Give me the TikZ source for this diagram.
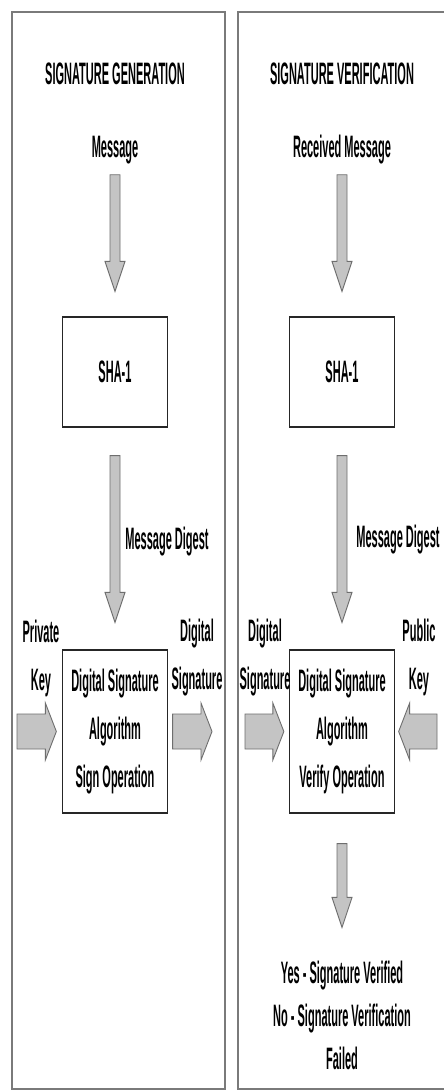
\documentclass[tikz,border=0pt]{standalone}
\usepackage{fontspec}
\setmainfont[FakeStretch=0.355]{Liberation Sans}
\usetikzlibrary{calc}

\definecolor{arrfill}{HTML}{C4C4C4}
\definecolor{arrline}{HTML}{6E6E6E}
\definecolor{panelline}{HTML}{7A7A7A}

\begin{document}
\begin{tikzpicture}[x=1pt,y=-1pt,
  panel/.style={draw=panelline,line width=1.6pt},
  txt/.style={inner sep=0pt,align=center,font=\fontsize{31}{48}\selectfont\bfseries},
  box/.style={rectangle,draw=black!85,line width=1.3pt,fill=white,minimum width=105pt,inner sep=0pt,align=center,font=\fontsize{31}{48}\selectfont\bfseries},
  blk/.style={draw=arrline,fill=arrfill,line width=0.9pt,line join=miter},
  blockv/.style 2 args={blk,to path={let \p1=(\tikztostart),\p2=(\tikztotarget) in
    (\x1-5pt,\y1-#1) -- (\x1+5pt,\y1-#1) -- (\x1+5pt,\y2+#2+30pt) -- (\x1+10pt,\y2+#2+30pt)
    -- (\x1,\y2+#2) -- (\x1-10pt,\y2+#2+30pt) -- (\x1-5pt,\y2+#2+30pt) -- cycle}},
  blockh/.style 2 args={blk,to path={let \p1=(\tikztostart),\p2=(\tikztotarget),\n1={(\x2-\x1)/abs(\x2-\x1)} in
    (\x1+\n1*#1,\y2+17.5pt) -- (\x2-\n1*#2-\n1*11pt,\y2+17.5pt) -- (\x2-\n1*#2-\n1*11pt,\y2+28.5pt)
    -- (\x2-\n1*#2,\y2) -- (\x2-\n1*#2-\n1*11pt,\y2-28.5pt) -- (\x2-\n1*#2-\n1*11pt,\y2-17.5pt)
    -- (\x1+\n1*#1,\y2-17.5pt) -- cycle}},
]

\fill[white] (0,0) rectangle (444,1092);
\useasboundingbox (0,0) rectangle (444,1092);

% Panels
\draw[panel] (12,12) rectangle (225,1089);
\draw[panel] (238,12) rectangle (460,1089);

% Titles
\node[txt,anchor=base] (genTitle) at (115,84) {SIGNATURE GENERATION};
\node[txt,anchor=base] (verTitle) at (342,84) {SIGNATURE VERIFICATION};

% Inputs
\node[txt,anchor=base] (msgGen) at (115,157) {Message};
\node[txt,anchor=base] (msgVer) at (342,157) {Received Message};

% Hash boxes
\node[box,minimum height=110pt] (shaGen) at (115,372) {SHA-1};
\node[box,minimum height=110pt] (shaVer) at (342,372) {SHA-1};

% Algorithm boxes
\node[box,minimum height=163pt] (dsaGen) at (115,731.5) {Digital Signature\\Algorithm\\Sign Operation};
\node[box,minimum height=163pt] (dsaVer) at (342,731.5) {Digital Signature\\Algorithm\\Verify Operation};

% Side labels
\node[txt,anchor=base] (digestGen) at (167,549) {Message Digest};
\node[txt,anchor=base] (digestVer) at (398,547) {Message Digest};
\node[txt] (privKey) at (41,658) {Private\\Key};
\node[txt] (sigOutLbl) at (197,658) {Digital\\Signature};
\node[txt] (sigInLbl) at (265,658) {Digital\\Signature};
\node[txt] (pubKey) at (419,657) {Public\\Key};

% Result
\node[txt,font=\fontsize{31}{43}\selectfont\bfseries] (result) at (342,1015) {Yes - Signature Verified\\No - Signature Verification\\Failed};

% Free ends
\coordinate (keyIn) at (17,731.5);
\coordinate (sigOut) at (212,731.5);
\coordinate (sigIn) at (245,731.5);
\coordinate (keyPub) at (437,731.5);

% Block arrows
\draw[blockv={11pt}{25pt}] (msgGen.south) to (shaGen.north);
\draw[blockv={11pt}{25pt}] (msgVer.south) to (shaVer.north);
\draw[blockv={28pt}{27pt}] (shaGen.south) to (dsaGen.north);
\draw[blockv={28pt}{27pt}] (shaVer.south) to (dsaVer.north);
\draw[blockv={30pt}{33pt}] (dsaVer.south) to (result.north);
\draw[blockh={0pt}{5.5pt}] (keyIn) to (dsaGen.west);
\draw[blockh={4.5pt}{0pt}] (dsaGen.east) to (sigOut);
\draw[blockh={0pt}{5pt}] (sigIn) to (dsaVer.west);
\draw[blockh={0pt}{3.5pt}] (keyPub) to (dsaVer.east);

\end{tikzpicture}
\end{document}
